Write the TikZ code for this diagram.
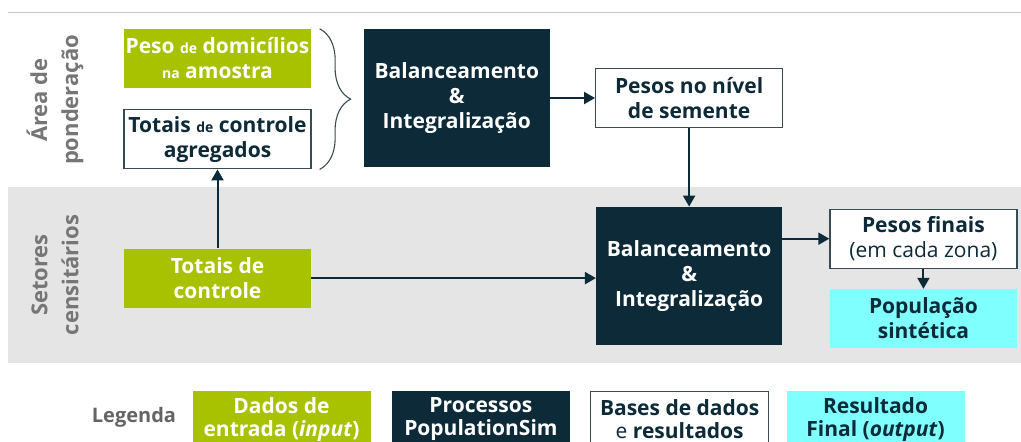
\documentclass[tikz,border=0pt]{standalone}
\usepackage{fontspec}
\setmainfont{Open Sans}
\usepackage{tikz}
\usetikzlibrary{positioning,arrows.meta,decorations.pathreplacing,calc}

\definecolor{entrada}{RGB}{168,193,0}
\definecolor{processo}{RGB}{12,42,56}
\definecolor{resultado}{RGB}{128,255,255}
\definecolor{faixa}{RGB}{229,229,229}
\definecolor{rotulo}{RGB}{118,118,118}
\definecolor{borda}{RGB}{55,75,85}
\definecolor{linha}{RGB}{200,200,200}

\newcommand{\miudo}[1]{{\fontsize{14}{14}\selectfont #1}}

\tikzset{
	caixa/.style={rectangle, align=center, inner sep=2pt, font=\fontsize{21}{25}\selectfont\bfseries, minimum width=187pt, minimum height=59pt},
	inbox/.style={caixa, fill=entrada, text=white},
	procbox/.style={caixa, fill=processo, text=white, minimum width=186pt, minimum height=138pt},
	basebox/.style={caixa, draw=borda, line width=1.2pt, fill=white, text=processo},
	finalbox/.style={caixa, fill=resultado, text=processo},
	legbox/.style={minimum width=178pt, minimum height=56pt, font=\fontsize{21}{23}\selectfont\bfseries},
	seta/.style={-{Triangle[length=11pt,width=12pt]}, line width=2pt, draw=processo},
	lado/.style={rotate=90, align=center, text=rotulo, font=\fontsize{22}{31}\selectfont\bfseries},
}

\begin{document}
\begin{tikzpicture}[x=1pt, y=-1pt]

	\useasboundingbox (0,0) rectangle (1021,442);
	\draw[draw=linha, line width=0.8pt] (8,12) -- (1021,12);
	\fill[faixa] (8,187) rectangle (1021,363);

	\node[lado] (area) at (55,100) {Área de\\ponderação};
	\node[lado] (setores) at (55,275) {Setores\\censitários};

	\node[inbox] (peso) at (217.5,58.5) {Peso \miudo{de} domicílios\\\miudo{na} amostra};
	\node[basebox, below=21pt of peso] (agreg) {Totais \miudo{de} controle\\agregados};
	\node[procbox, right=52pt of peso.north east, anchor=north west] (bal1) {Balanceamento\\\&\\Integralização};
	\node[basebox, right=45pt of bal1] (semente) {Pesos no nível\\de semente};
	\node[procbox, below=78.5pt of semente] (bal2) {Balanceamento\\\&\\Integralização};
	\node[basebox, right=47pt of bal2.north east, anchor=north west, yshift=-2pt] (finais) {Pesos finais\\{\mdseries (em cada zona)}};
	\node[finalbox, below=20pt of finais] (popul) {População\\sintética};
	\node[inbox, below=79pt of agreg] (totais) {Totais de\\controle};

	\draw[draw=borda, line width=1.1pt, decorate, decoration={brace, amplitude=31pt}] ([xshift=8pt]peso.north east) -- ([xshift=8pt]agreg.south east);

	\draw[seta] (totais) -- (agreg);
	\draw[seta] (totais) -- (totais -| bal2.west);
	\draw[seta] (bal1) -- (semente);
	\draw[seta] (semente) -- (bal2);
	\draw[seta] (bal2.east |- finais) -- (finais);
	\draw[seta] (finais) -- (popul);

	\node[text=rotulo!85!black, font=\fontsize{20}{24}\selectfont\bfseries] (legenda) at (134,417) {Legenda};
	\node[inbox, legbox, anchor=north] (leg1) at (281.5,391) {Dados de\\entrada (\textit{input})};
	\node[procbox, legbox, right=21pt of leg1] (leg2) {Processos\\PopulationSim};
	\node[basebox, legbox, right=20pt of leg2] (leg3) {Bases de dados\\{\mdseries e} resultados};
	\node[finalbox, legbox, right=17pt of leg3] (leg4) {Resultado\\Final (\textit{output})};

\end{tikzpicture}
\end{document}
